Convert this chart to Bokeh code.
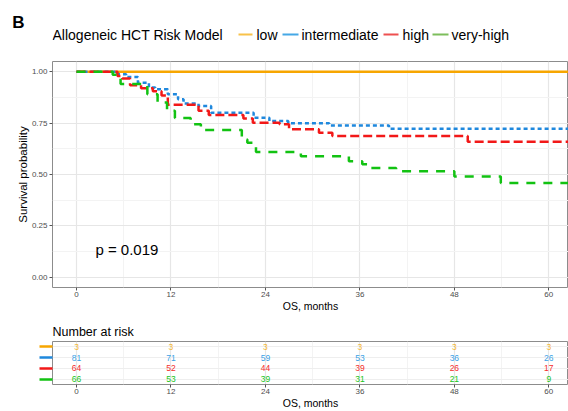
from bokeh.plotting import figure
from bokeh.layouts import column
from bokeh.models import Range1d, Label, FixedTicker, ColumnDataSource, Title, LinearAxis
from bokeh.core.properties import value
from bokeh.embed import file_html
from bokeh.resources import INLINE

FONT = "Liberation Sans"

# ---------------- data ----------------
groups = ["low", "intermediate", "high", "very-high"]
legend_title = "Allogeneic HCT Risk Model"
panel_letter = "B"
line_colors = ["#F7A600", "#1F88DD", "#F21818", "#12C212"]
legend_colors = ["#F8C24A", "#45A8E6", "#EE5050", "#7DBE5C"]
text_colors = ["#F5B630", "#3AA2E6", "#F42C2C", "#20C420"]
dashes = ["solid", "4 3", "9 4", "9 8"]

low_t = [0, 63]
low_s = [1.0, 1.0]
int_t = [0, 5.2, 6.3, 7.8, 9.2, 10.0, 11.6, 12.9, 13.6, 15.5, 17.1, 22.5, 24.5, 26.9, 32.1, 39.7, 63]
int_s = [1.0, 0.988, 0.975, 0.947, 0.923, 0.915, 0.89, 0.866, 0.845, 0.833, 0.80, 0.776, 0.76, 0.749, 0.739, 0.723, 0.723]
high_t = [0, 5.2, 5.8, 6.8, 8.2, 9.7, 10.8, 11.6, 15.5, 16.8, 21.2, 22.4, 25.8, 27.0, 30.8, 32.5, 49.7, 63]
high_s = [1.0, 0.98, 0.967, 0.935, 0.92, 0.905, 0.885, 0.84, 0.81, 0.79, 0.773, 0.752, 0.744, 0.72, 0.703, 0.687, 0.66, 0.66]
vh_t = [0, 4.6, 5.6, 9.0, 10.3, 11.5, 12.5, 14.5, 15.8, 21.0, 21.7, 22.8, 28.5, 34.6, 36.3, 37.2, 40.6, 48.0, 53.9, 63]
vh_s = [1.0, 0.985, 0.94, 0.89, 0.85, 0.81, 0.775, 0.745, 0.716, 0.67, 0.654, 0.61, 0.589, 0.565, 0.55, 0.532, 0.516, 0.49, 0.459, 0.459]
curves_t = [low_t, int_t, high_t, vh_t]
curves_s = [low_s, int_s, high_s, vh_s]

x_ticks = [0, 12, 24, 36, 48, 60]
x_minor = [6, 18, 30, 42, 54]
y_ticks = [0.0, 0.25, 0.5, 0.75, 1.0]
y_minor = [0.125, 0.375, 0.625, 0.875]
y_tick_labels = ["0.00", "0.25", "0.50", "0.75", "1.00"]

risk_times = [0, 12, 24, 36, 48, 60]
risk_low = [3, 3, 3, 3, 3, 3]
risk_int = [81, 71, 59, 53, 36, 26]
risk_high = [64, 52, 44, 39, 26, 17]
risk_vh = [66, 53, 39, 31, 21, 9]
risk_rows = [4, 3, 2, 1]
risk_title = "Number at risk"
pvalue_text = "p = 0.019"
x_label = "OS, months"
y_label = "Survival probability"

# ---------------- header (frame is aligned with the main plot frame: x 52..568) ----------------
hdr = figure(width=568, height=52, x_range=Range1d(52, 568), y_range=Range1d(52, 0),
             output_backend="svg", toolbar_location=None,
             x_axis_location=None, y_axis_location="left", min_border=0)
hdr.grid.visible = False
hdr.outline_line_color = None
hdr.yaxis.ticker = FixedTicker(ticks=[22])
hdr.yaxis.major_label_overrides = {22: panel_letter}
hdr.yaxis.major_label_text_font = FONT
hdr.yaxis.major_label_text_font_size = "17px"
hdr.yaxis.major_label_text_font_style = "bold"
hdr.yaxis.major_label_text_color = "black"
hdr.yaxis.major_label_standoff = 28
hdr.yaxis.major_tick_out = 0
hdr.yaxis.major_tick_in = 0
hdr.yaxis.minor_tick_out = 0
hdr.yaxis.minor_tick_in = 0
hdr.yaxis.axis_line_color = None

hdr.text(x=[52], y=[34.5], text=[legend_title], text_font=value(FONT), text_font_size="14px",
         text_baseline="middle", text_color="black")
sw_x0 = [238, 282, 383, 432]
sw_x1 = [252, 298, 398, 448]
lab_x = [256, 301, 402, 451]
hdr.segment(x0=sw_x0, y0=[34] * 4, x1=sw_x1, y1=[34] * 4, line_color=legend_colors, line_width=2)
hdr.text(x=lab_x, y=[34.5] * 4, text=groups, text_font=value(FONT), text_font_size="14px",
         text_baseline="middle", text_color="black")

# ---------------- main KM plot ----------------
xr = Range1d(-3.05, 62.5)
p = figure(width=568, height=262, x_range=xr, y_range=Range1d(-0.05, 1.05),
           output_backend="svg", toolbar_location=None,
           min_border_left=52, min_border_right=0, min_border_top=9, min_border_bottom=24)
p.background_fill_color = "white"
p.outline_line_color = "#8C8C8C"
p.outline_line_width = 1

for t, s, c, d in zip(curves_t, curves_s, line_colors, dashes):
    p.step(t, s, mode="after", line_color=c, line_width=2.5, line_dash=d)


def style_axes(fig):
    fig.xaxis.ticker = FixedTicker(ticks=x_ticks, minor_ticks=x_minor)
    fig.xaxis.axis_label = x_label
    for ax in fig.axis:
        ax.axis_line_color = None
        ax.major_tick_in = 0
        ax.major_tick_out = 3
        ax.minor_tick_out = 0
        ax.minor_tick_in = 0
        ax.major_tick_line_color = "#555555"
        ax.major_label_text_font = FONT
        ax.major_label_text_font_size = "8px"
        ax.major_label_text_color = "#4D4D4D"
        ax.major_label_standoff = 1
        ax.axis_label_text_font = FONT
        ax.axis_label_text_font_size = "10.5px"
        ax.axis_label_text_font_style = "normal"
        ax.axis_label_text_color = "black"
        ax.axis_label_standoff = 0
    fig.xgrid.grid_line_color = "#E6E6E6"
    fig.xgrid.grid_line_width = 1.2
    fig.xgrid.minor_grid_line_color = "#F3F3F3"


style_axes(p)
p.yaxis.ticker = FixedTicker(ticks=y_ticks, minor_ticks=y_minor)
p.yaxis.major_label_overrides = {t: l for t, l in zip(y_ticks, y_tick_labels)}
p.yaxis.axis_label = y_label
p.yaxis.axis_label_text_font_size = "11.5px"
p.yaxis.axis_label_standoff = 0
p.yaxis.major_label_standoff = 2
p.ygrid.grid_line_color = "#E6E6E6"
p.ygrid.grid_line_width = 1.2
p.ygrid.minor_grid_line_color = "#F3F3F3"

p.add_layout(Label(x=2.4, y=0.135, text=pvalue_text, text_font=FONT, text_font_size="15px",
                   text_baseline="middle", text_color="black"))

# ---------------- risk table ----------------
r = figure(width=568, height=97, x_range=xr, y_range=Range1d(0.5, 4.5),
           output_backend="svg", toolbar_location=None,
           min_border_left=52, min_border_right=0, min_border_top=27, min_border_bottom=26)
r.title = Title(text=risk_title, align="left", text_font=FONT, text_font_size="12.5px",
                text_font_style="normal", text_color="black", standoff=6)
r.outline_line_color = "#8C8C8C"
style_axes(r)
r.yaxis.visible = False
r.ygrid.ticker = FixedTicker(ticks=risk_rows)
r.ygrid.grid_line_color = "#EEEEEE"
r.ygrid.grid_line_width = 1.2

risk_vals = [risk_low, risk_int, risk_high, risk_vh]
xs, ys, txt, cols = [], [], [], []
for vals, row, c in zip(risk_vals, risk_rows, text_colors):
    for t, v in zip(risk_times, vals):
        xs.append(t)
        ys.append(row)
        txt.append(str(v))
        cols.append(c)
src = ColumnDataSource(dict(x=xs, y=ys, text=txt, color=cols))
r.text(x="x", y="y", text="text", text_color="color", source=src, text_font=value(FONT),
       text_font_size="8.5px", text_align="center", text_baseline="middle")

# colour keys left of the table: one single-tick axis per group; the tick is drawn
# outward through a negative "in" length so that the axes take no extra room
for row, c in zip(risk_rows, line_colors):
    ax = LinearAxis(ticker=FixedTicker(ticks=[row]),
                    axis_line_color=None, major_tick_out=0, major_tick_in=-13,
                    minor_tick_out=0, minor_tick_in=0,
                    major_tick_line_color=c, major_tick_line_width=2.5,
                    major_label_overrides={row: ""}, major_label_standoff=0,
                    major_label_text_font_size="1px")
    r.add_layout(ax, "left")

layout = column(hdr, p, r, spacing=0)
open("out.html", "w").write(file_html(layout, INLINE))
